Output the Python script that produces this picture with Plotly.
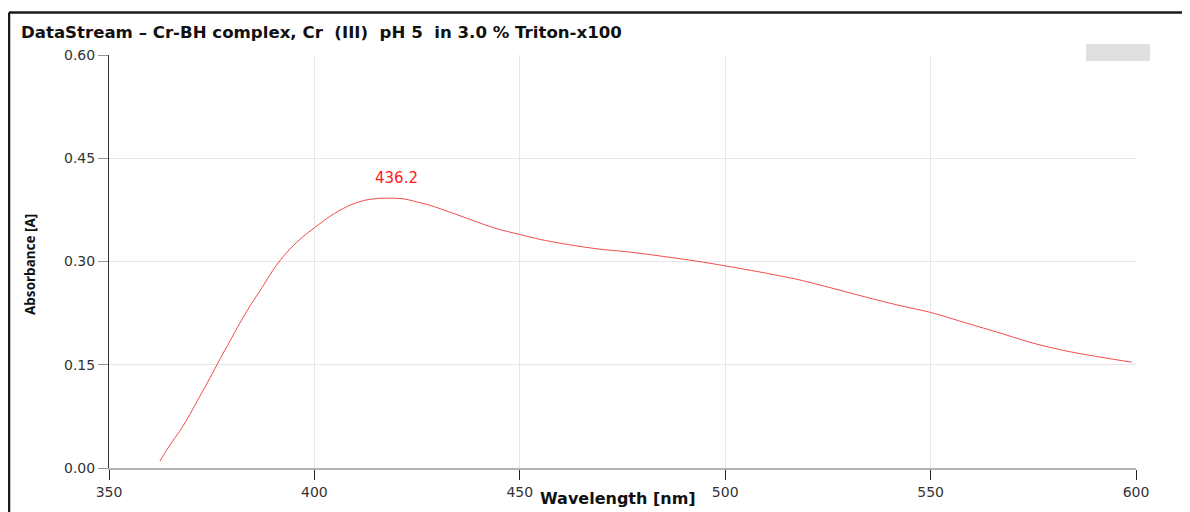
import plotly.graph_objects as go

# ---- data ----
wavelength_nm = [362.4, 363.5, 365.6, 367.6, 369.7, 372.1, 374.5, 377.0, 379.4, 381.8,
                 384.4, 386.8, 390.8, 394.0, 397.2, 400.0, 403.9, 408.0, 412.0, 415.3,
                 418.5, 421.8, 424.2, 428.3, 432.3, 436.4, 440.4, 444.5, 450.0, 455.0,
                 460.7, 468.8, 476.9, 485.0, 493.1, 500.0, 510.0, 518.0, 526.0, 534.4,
                 542.5, 550.0, 558.8, 567.0, 575.0, 583.0, 591.4, 599.0]
absorbance = [0.010, 0.021, 0.040, 0.057, 0.078, 0.104, 0.130, 0.158, 0.184, 0.210,
              0.236, 0.258, 0.295, 0.318, 0.336, 0.349, 0.366, 0.380, 0.3886, 0.3915,
              0.392, 0.391, 0.3877, 0.3814, 0.3731, 0.3644, 0.3557, 0.3475, 0.3392, 0.332,
              0.3257, 0.3184, 0.3136, 0.3073, 0.3005, 0.2937, 0.283, 0.2734, 0.2613, 0.248,
              0.236, 0.226, 0.2104, 0.1959, 0.1813, 0.170, 0.161, 0.1537]
x_ticks = [350, 400, 450, 500, 550, 600]
y_ticks = [0.00, 0.15, 0.30, 0.45, 0.60]
y_tick_labels = ["0.00", "0.15", "0.30", "0.45", "0.60"]
peak_label = "436.2"
peak_label_pos = (420.0, 0.4215)
title_text = ("DataStream \u2013 Cr-BH complex, Cr\u00a0 (III)\u00a0 pH 5\u00a0 in 3.0 % Triton-x100")
x_title = "Wavelength [nm]"
y_title = "Absorbance [A]"

FONT = "DejaVu Sans"
NARROW_BOLD = "Noto Sans"
OFF = 8  # page body margin offset (px)
W, H = 1190 - OFF, 512 - OFF

fig = go.Figure()
fig.add_trace(go.Scatter(
    x=wavelength_nm, y=absorbance, mode="lines",
    line=dict(color="#f24a4a", width=1, shape="spline", smoothing=0.8),
    showlegend=False, hoverinfo="skip",
))

fig.update_layout(
    width=W, height=H,
    margin=dict(l=109 - OFF, r=54, t=55 - OFF, b=44, autoexpand=False),
    paper_bgcolor="white", plot_bgcolor="white",
    showlegend=False,
    title=dict(text="<b>" + title_text + "</b>", x=(21 - OFF) / W, xanchor="left",
               xref="container", yref="container", y=1 - (32 - OFF) / H, yanchor="middle",
               font=dict(family=FONT, size=16.6, color="#111")),
    font=dict(family=FONT, size=13, color="#333"),
)

fig.update_xaxes(
    range=[350, 600], tickvals=x_ticks, ticktext=[str(v) for v in x_ticks],
    showgrid=True, gridcolor="#e6e6e6", gridwidth=1,
    showline=True, linecolor="#b4b4b4", linewidth=2,
    ticks="outside", ticklen=10, tickwidth=1, tickcolor="#222",
    tickfont=dict(family=FONT, size=14, color="#333"),
    zeroline=False, fixedrange=True,
)
fig.update_yaxes(
    range=[0, 0.6], tickvals=y_ticks, ticktext=y_tick_labels,
    showgrid=True, gridcolor="#e6e6e6", gridwidth=1,
    showline=True, linecolor="#333", linewidth=1,
    ticks="outside", ticklen=10, tickwidth=1, tickcolor="#999",
    tickfont=dict(family=FONT, size=14, color="#333"),
    zeroline=False, fixedrange=True,
)

# peak label
fig.add_annotation(x=peak_label_pos[0], y=peak_label_pos[1], text=peak_label,
                   showarrow=False, xanchor="center", yanchor="middle",
                   font=dict(family=FONT, size=15, color="#ff1a1a"))

# axis titles (positions in window pixels converted to paper coords)
fig.add_annotation(x=(618 - 109) / 1027, y=(468 - 498) / 413, xref="paper", yref="paper",
                   text="<b>" + x_title + "</b>", showarrow=False,
                   xanchor="center", yanchor="middle",
                   font=dict(family=FONT, size=16, color="#111"))
fig.add_annotation(x=(30 - 109) / 1027, y=(468 - 265) / 413, xref="paper", yref="paper",
                   text="<b>" + y_title + "</b>", showarrow=False, textangle=-90,
                   xanchor="center", yanchor="middle",
                   font=dict(family=NARROW_BOLD, size=13.5, color="#111"))

# frame lines (top and left) and gray legend box placeholder
fig.add_shape(type="line", xref="paper", yref="paper",
              x0=(9 - 109) / 1027, x1=(1190 - 109) / 1027,
              y0=(468 - 12.5) / 413, y1=(468 - 12.5) / 413,
              line=dict(color="#1a1a1a", width=2.5))
fig.add_shape(type="line", xref="paper", yref="paper",
              x0=(9 - 109) / 1027, x1=(9 - 109) / 1027,
              y0=(468 - 12.5) / 413, y1=(468 - 530) / 413,
              line=dict(color="#1a1a1a", width=2.5))
fig.add_shape(type="rect", xref="paper", yref="paper",
              x0=(1086 - 109) / 1027, x1=(1150 - 109) / 1027,
              y0=(468 - 61) / 413, y1=(468 - 44) / 413,
              fillcolor="#e0e0e0", line=dict(width=0))

fig.write_html("out.html")
